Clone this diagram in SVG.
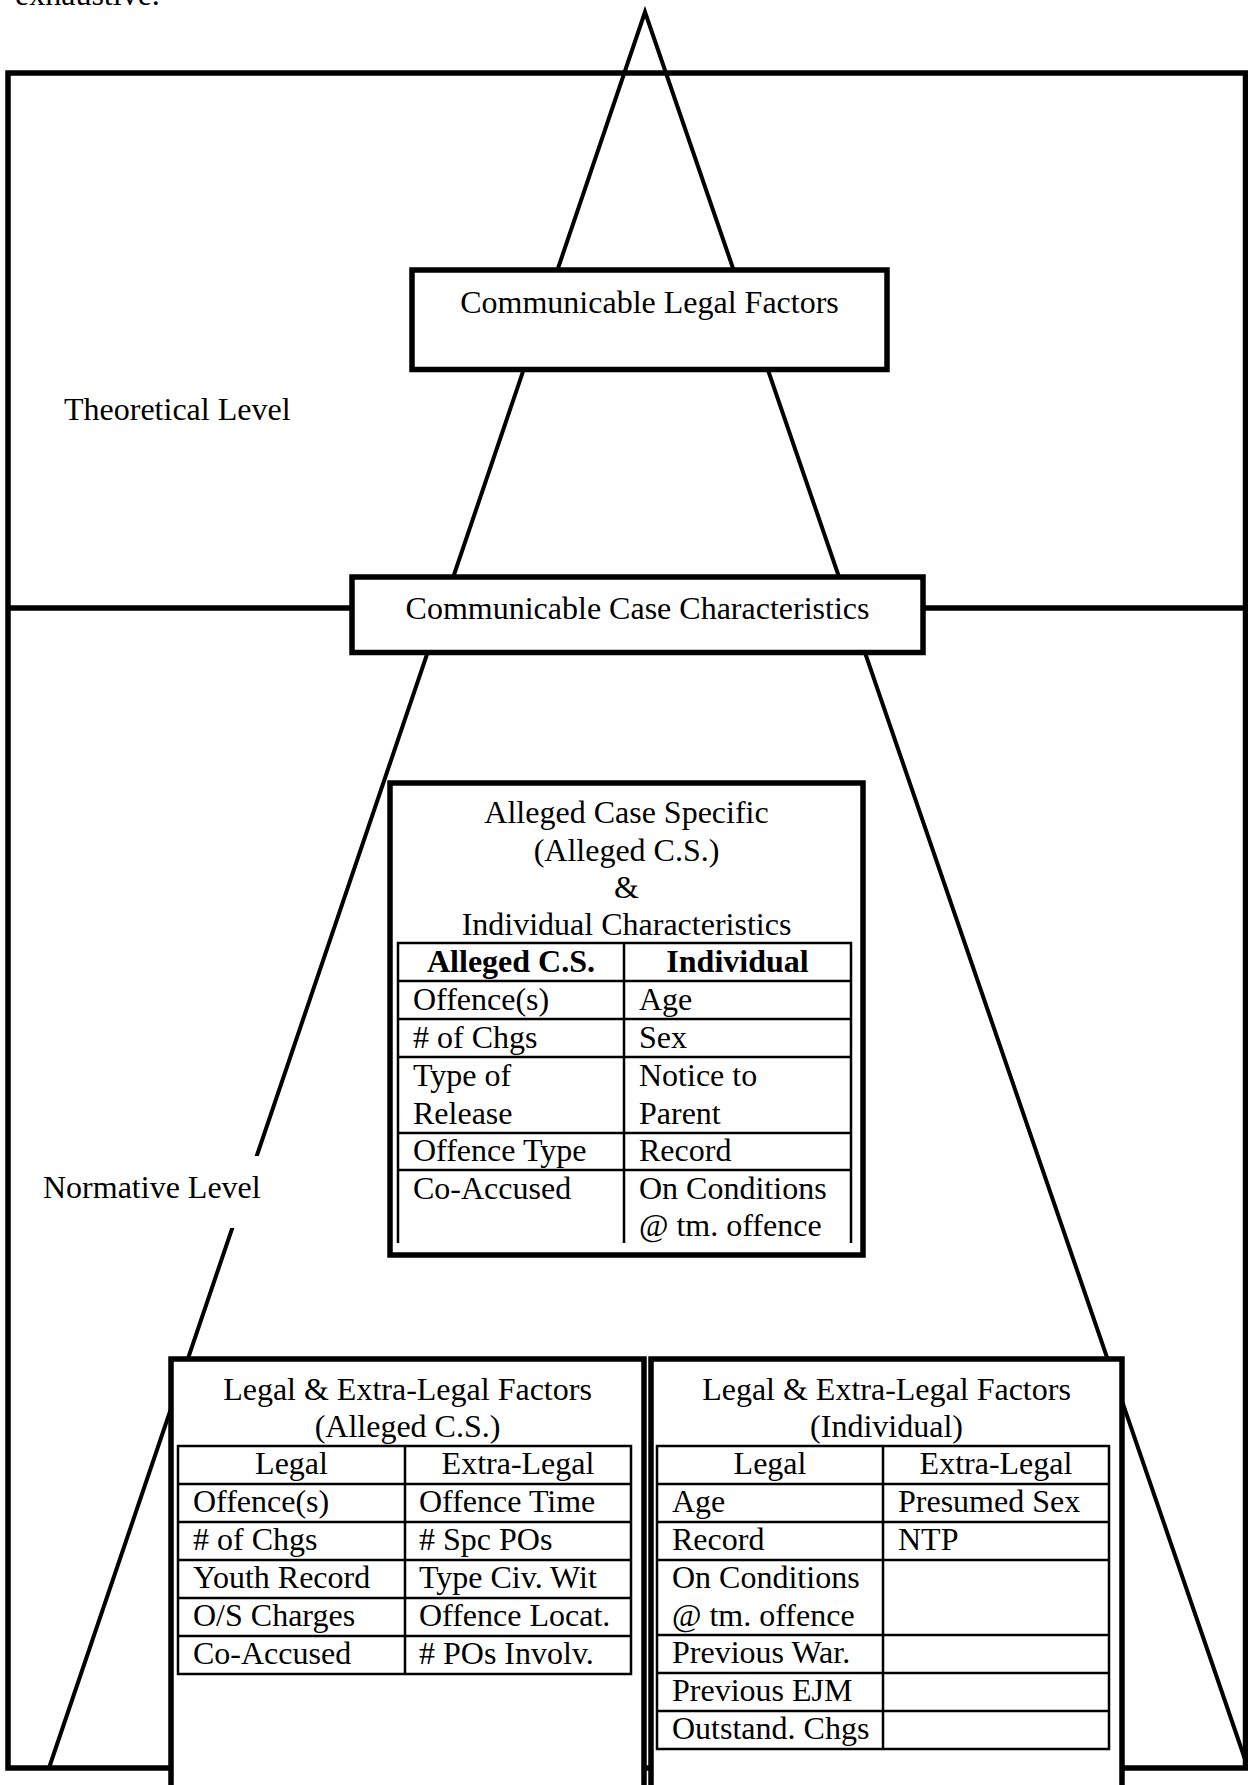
<svg xmlns="http://www.w3.org/2000/svg" width="1248" height="1785" viewBox="0 0 1248 1785">
<style>
text{font-family:"Liberation Serif","Times New Roman",serif;font-size:32px;fill:#000}
.c{text-anchor:middle}
.b{font-weight:bold}
.box{fill:#fff;stroke:#000;stroke-width:5.5}
.tbl{fill:none;stroke:#000;stroke-width:2.5}
.frame{fill:none;stroke:#000;stroke-width:5.5}
.tri{fill:none;stroke:#000;stroke-width:4;stroke-linejoin:miter;stroke-miterlimit:10}
</style>
<rect width="1248" height="1785" fill="#fff"/>
<text x="15" y="5">exhaustive.</text>
<g id="frame">
<rect class="frame" x="8" y="73" width="1237.5" height="1695"/>
<line class="frame" x1="8" y1="608" x2="1245.5" y2="608"/>
</g>
<g id="connectors">
<path class="tri" d="M49,1768 L645,12 L1248,1768"/>
</g>
<g id="theoretical-label">
<text x="64" y="420">Theoretical Level</text>
</g>
<g id="normative-label">
<rect x="36" y="1156" width="226" height="72" fill="#fff"/>
<text x="43" y="1198">Normative Level</text>
</g>
<g id="legal-factors">
<rect class="box" x="412" y="270" width="475" height="99.5"/>
<text class="c" x="649.5" y="312.5">Communicable Legal Factors</text>
</g>
<g id="case-characteristics">
<rect class="box" x="352" y="577" width="571" height="75.5"/>
<text class="c" x="637.5" y="619">Communicable Case Characteristics</text>
</g>
<g id="alleged-case">
<rect class="box" x="390" y="783" width="473" height="472"/>
<text class="c" x="626.5" y="823">Alleged Case Specific</text>
<text class="c" x="626.5" y="860.5">(Alleged C.S.)</text>
<text class="c" x="626.5" y="897.5">&amp;</text>
<text class="c" x="626.5" y="934.5">Individual Characteristics</text>
<path class="tbl" d="M398,1243 V943 H851 V1243 M624,943 V1243 M398,981 H851 M398,1019 H851 M398,1057 H851 M398,1133 H851 M398,1170 H851"/>
<text class="c b" x="511" y="972">Alleged C.S.</text>
<text class="c b" x="737.5" y="972">Individual</text>
<text x="413" y="1010">Offence(s)</text><text x="639" y="1010">Age</text>
<text x="413" y="1048">&#35; of Chgs</text><text x="639" y="1048">Sex</text>
<text x="413" y="1086">Type of</text><text x="639" y="1086">Notice to</text>
<text x="413" y="1123.5">Release</text><text x="639" y="1123.5">Parent</text>
<text x="413" y="1161">Offence Type</text><text x="639" y="1161">Record</text>
<text x="413" y="1198.5">Co-Accused</text><text x="639" y="1198.5">On Conditions</text>
<text x="639" y="1235.5">@ tm. offence</text>
</g>
<g id="legal-alleged">
<rect class="box" x="171" y="1359" width="473" height="450"/>
<text class="c" x="407.5" y="1400">Legal &amp; Extra-Legal Factors</text>
<text class="c" x="407.5" y="1437">(Alleged C.S.)</text>
<path class="tbl" d="M178,1446 H631 V1674 H178 Z M405,1446 V1674 M178,1484 H631 M178,1522 H631 M178,1560 H631 M178,1598 H631 M178,1636 H631"/>
<text class="c" x="291.5" y="1474">Legal</text><text class="c" x="518" y="1474">Extra-Legal</text>
<text x="193" y="1512">Offence(s)</text><text x="419" y="1512">Offence Time</text>
<text x="193" y="1550">&#35; of Chgs</text><text x="419" y="1550">&#35; Spc POs</text>
<text x="193" y="1588">Youth Record</text><text x="419" y="1588">Type Civ. Wit</text>
<text x="193" y="1626">O/S Charges</text><text x="419" y="1626">Offence Locat.</text>
<text x="193" y="1664">Co-Accused</text><text x="419" y="1664">&#35; POs Involv.</text>
</g>
<g id="legal-individual">
<rect class="box" x="651" y="1359" width="471" height="450"/>
<text class="c" x="886.5" y="1400">Legal &amp; Extra-Legal Factors</text>
<text class="c" x="886.5" y="1437">(Individual)</text>
<path class="tbl" d="M657,1446 H1109 V1749 H657 Z M883,1446 V1749 M657,1484 H1109 M657,1522 H1109 M657,1560 H1109 M657,1635 H1109 M657,1673 H1109 M657,1711 H1109"/>
<text class="c" x="770" y="1474">Legal</text><text class="c" x="996" y="1474">Extra-Legal</text>
<text x="672" y="1512">Age</text><text x="898" y="1512">Presumed Sex</text>
<text x="672" y="1550">Record</text><text x="898" y="1550">NTP</text>
<text x="672" y="1588">On Conditions</text>
<text x="672" y="1625.5">@ tm. offence</text>
<text x="672" y="1663">Previous War.</text>
<text x="672" y="1701">Previous EJM</text>
<text x="672" y="1738.5">Outstand. Chgs</text>
</g>
</svg>
